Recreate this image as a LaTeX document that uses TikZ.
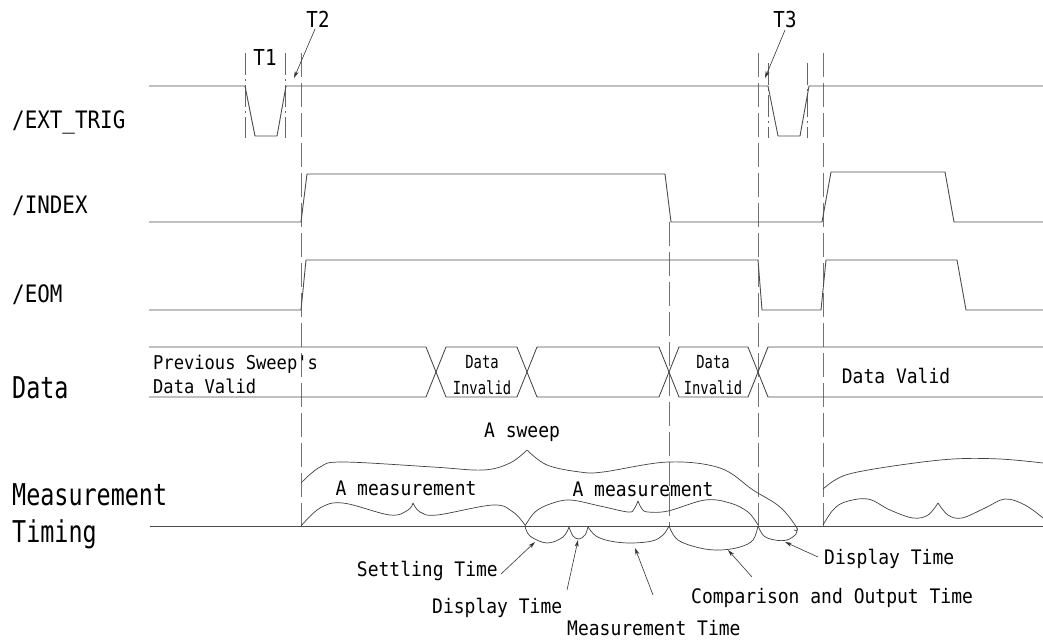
\documentclass[tikz,border=0pt]{standalone}
\usepackage{fontspec}
\newfontfamily\fA[FakeStretch=0.87]{DejaVu Sans Mono}
\newfontfamily\fB[FakeStretch=0.78]{DejaVu Sans Mono}
\newfontfamily\fC[FakeStretch=0.9]{DejaVu Sans Mono}
\newfontfamily\fD[FakeStretch=0.77]{DejaVu Sans Mono}
\usetikzlibrary{arrows.meta}
\begin{document}
\begin{tikzpicture}[x=1pt,y=-1pt,
  sig/.style={line width=0.9pt, draw=black!70, line join=round},
  vdash/.style={line width=0.8pt, draw=black!55, dash pattern=on 24pt off 6pt},
  tmark/.style={line width=0.7pt, draw=black!60, dash pattern=on 22pt off 4pt on 2pt off 4pt},
  brace/.style={line width=0.7pt, draw=black!75},
  lead/.style={line width=0.6pt, draw=black!80, -{Stealth[length=7pt,width=4pt]}},
  every node/.style={inner sep=0pt, text=black},
  sigl/.style={anchor=base west, font=\fA\fontsize{24}{28}\selectfont},
  bigl/.style={anchor=base west, font=\fB\fontsize{30}{34}\selectfont},
  tl/.style={anchor=base, font=\fA\fontsize{22}{26}\selectfont},
  sml/.style={font=\fC\fontsize{20}{24}\selectfont},
  cell/.style={anchor=base, font=\fD\fontsize{18}{22}\selectfont}
]
\useasboundingbox (0,0) rectangle (1043,641);

% ---------- signal labels
\node[sigl] (lext) at (12,128) {/EXT\_TRIG};
\node[sigl] (lindex) at (12,213) {/INDEX};
\node[sigl] (leom) at (12,302) {/EOM};
\node[bigl] (ldata) at (12,398) {Data};
\node[bigl] (lmeas) at (12,505) {Measurement};
\node[bigl] (ltiming) at (12,542) {Timing};

% ---------- T labels
\node[tl] (t1) at (265,65) {T1};
\node[tl] (t2) at (318,27) {T2};
\node[tl] (t3) at (785,27) {T3};

% ---------- vertical reference lines
\draw[vdash] (301,53) -- (301,526);
\draw[vdash] (669,222) -- (669,526);
\draw[vdash] (758,53) -- (758,526);
\draw[vdash] (823,53) -- (823,526);

\draw[tmark] (245,53) -- (245,138);
\draw[tmark] (285,53) -- (285,138);
\draw[tmark] (768,63) -- (768,138);
\draw[tmark] (807,63) -- (807,138);

% ---------- /EXT_TRIG
\draw[sig] (149,86) -- (245,86) -- (255,136) -- (277,136) -- (286,86)
  -- (768,86) -- (778,136) -- (800,136) -- (809,86) -- (1043,86);
% ---------- /INDEX
\draw[sig] (149,222) -- (301,222) -- (307,174) -- (665,174) -- (671,222)
  -- (822,222) -- (831,172) -- (945,172) -- (954,222) -- (1043,222);
% ---------- /EOM
\draw[sig] (149,310) -- (301,310) -- (306,260) -- (758,260) -- (762,310)
  -- (821,310) -- (826,260) -- (957,260) -- (966,310) -- (1043,310);
% ---------- Data bus
\draw[sig] (149,347) -- (426,347) -- (446,397) -- (517,397) -- (537,347)
  -- (659,347) -- (679,397) -- (748,397) -- (768,347) -- (1043,347);
\draw[sig] (149,397) -- (426,397) -- (446,347) -- (517,347) -- (537,397)
  -- (659,397) -- (679,347) -- (748,347) -- (768,397) -- (1043,397);

\node[sml, anchor=base west, font=\fC\fontsize{19}{23}\selectfont] (prev) at (153,369) {Previous Sweep's};
\node[sml, anchor=base west, font=\fC\fontsize{19}{23}\selectfont] (prevdv) at (153,393) {Data Valid};
\node[cell] (inv1a) at (482,368) {Data};
\node[cell] (inv1b) at (482,394) {Invalid};
\node[cell] (inv2a) at (713,368) {Data};
\node[cell] (inv2b) at (713,394) {Invalid};
\node[sml, anchor=base] (dv) at (896,383) {Data Valid};

% ---------- Measurement timing baseline
\draw[sig] (150,526) -- (1043,526);

% sweep brace
\draw[brace] plot[smooth, tension=0.6] coordinates {(301,483) (320,467) (343,462) (433,467) (483,470) (510,463) (527,450)};
\draw[brace] plot[smooth, tension=0.6] coordinates {(527,450) (547,465) (580,472) (603,472) (668,462) (720,468) (753,490) (780,507) (797,528) (794,530)};
% next sweep brace
\draw[brace] plot[smooth, tension=0.6] coordinates {(823,489) (835,480) (853,473) (900,465) (953,459) (1000,459) (1043,463)};

% measurement braces
\draw[brace] plot[smooth, tension=0.6] coordinates {(301,526) (320,508) (343,503) (390,515) (408,510) (413,503)};
\draw[brace] plot[smooth, tension=0.6] coordinates {(413,503) (420,512) (437,515) (493,505) (513,512) (525,525)};
\draw[brace] plot[smooth, tension=0.6] coordinates {(525,526) (535,512) (550,504) (570,500) (600,506) (628,512) (634,509) (638,501)};
\draw[brace] plot[smooth, tension=0.6] coordinates {(638,501) (642,509) (648,512) (668,511) (705,500) (730,503) (748,512) (758,525)};
\draw[brace] plot[smooth, tension=0.6] coordinates {(823,525) (833,510) (845,502) (868,499) (890,510) (913,518) (928,515) (938,503)};
\draw[brace] plot[smooth, tension=0.6] coordinates {(938,503) (948,515) (962,518) (985,508) (1005,499) (1025,505) (1043,518)};

% downward braces
\draw[brace] plot[smooth, tension=0.6] coordinates {(525,526) (530,536) (547,543) (563,537) (569,527)};
\draw[brace] plot[smooth, tension=0.6] coordinates {(569,527) (573,536) (579,539) (585,535) (588,527)};
\draw[brace] plot[smooth, tension=0.6] coordinates {(588,527) (596,536) (610,541) (630,543) (652,541) (663,535) (669,526)};
\draw[brace] plot[smooth, tension=0.6] coordinates {(669,526) (678,540) (700,548) (720,550) (740,547) (753,540) (758,526)};
\draw[brace] plot[smooth, tension=0.6] coordinates {(758,526) (764,536) (775,540) (787,540) (796,534) (797,528)};

% brace labels
\node[sml, anchor=base] (sweep) at (522,437) {A sweep};
\node[sml, anchor=base] (meas1) at (406,495) {A measurement};
\node[sml, anchor=base] (meas2) at (643,496) {A measurement};

\node[sml, anchor=base east] (settle) at (498,576) {Settling Time};
\node[sml, anchor=base west] (disp1) at (432,613) {Display Time};
\node[sml, anchor=base west] (mtime) at (567,635) {Measurement Time};
\node[sml, anchor=base west] (comp) at (691,603) {Comparison and Output Time};
\node[sml, anchor=base west] (disp2) at (824,564) {Display Time};

% leader arrows
\coordinate (t2s) at (315,29);   \coordinate (t2e) at (294,78);
\coordinate (t3s) at (785,30);   \coordinate (t3e) at (765,78);
\coordinate (sts) at (501,574);  \coordinate (ste) at (535,542);
\coordinate (d1s) at (567,590);  \coordinate (d1e) at (578,540);
\coordinate (mts) at (653,595);  \coordinate (mte) at (635,548);
\coordinate (cps) at (752,577);  \coordinate (cpe) at (728,550);
\coordinate (d2s) at (818,557);  \coordinate (d2e) at (785,542);
\draw[lead] (t2s) -- (t2e);
\draw[lead] (t3s) -- (t3e);
\draw[lead] (sts) -- (ste);
\draw[lead] (d1s) -- (d1e);
\draw[lead] (mts) -- (mte);
\draw[lead] (cps) -- (cpe);
\draw[lead] (d2s) -- (d2e);
\end{tikzpicture}
\end{document}
